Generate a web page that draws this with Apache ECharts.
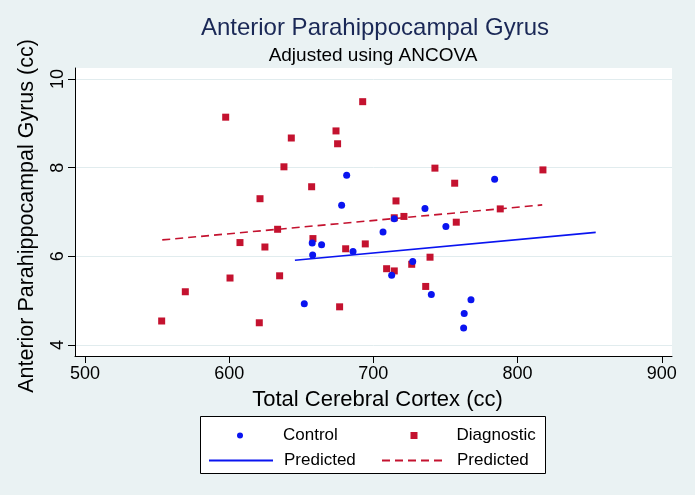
<!DOCTYPE html>
<html>
<head>
<meta charset="utf-8">
<script src="https://cdn.jsdelivr.net/npm/echarts@6/dist/echarts.min.js"></script>
<style>
  html, body { margin: 0; padding: 0; background: #eaf2f3; }
  #chart { width: 695px; height: 495px; }
</style>
</head>
<body>
<div id="chart"></div>
<script>
// ---- Data ----
const titleText = 'Anterior Parahippocampal Gyrus';
const subtitleText = 'Adjusted using ANCOVA';
const xAxisTitle = 'Total Cerebral Cortex (cc)';
const yAxisTitle = 'Anterior Parahippocampal Gyrus (cc)';

const xTicks = [500, 600, 700, 800, 900];
const yTicks = [4, 6, 8, 10];

// Control group (blue dots): [total cerebral cortex, anterior parahippocampal gyrus]
const controlX = [681.5, 678.0, 706.7, 657.6, 664.1, 657.9, 685.9, 652.1, 712.7,
                  784.1, 735.8, 714.5, 750.3, 727.3, 740.2, 767.7, 763.0, 762.6];
const controlY = [7.83, 7.15, 6.55, 6.30, 6.26, 6.03, 6.11, 4.93, 5.57,
                  7.74, 7.08, 6.85, 6.67, 5.88, 5.14, 5.02, 4.71, 4.38];

// Diagnostic group (red squares)
const diagX = [597.6, 692.6, 674.1, 675.2, 643.1, 638.0, 657.2, 621.4, 633.6, 658.1,
               607.5, 624.8, 680.8, 694.4, 600.6, 635.0, 569.6, 676.6, 553.2, 620.9,
               709.2, 742.7, 817.6, 756.4, 715.7, 714.5, 721.2, 788.0, 757.5, 739.3,
               726.6, 714.5, 736.3];
const diagY = [9.14, 9.49, 8.83, 8.54, 8.67, 8.02, 7.57, 7.30, 6.61, 6.40,
               6.31, 6.21, 6.17, 6.28, 5.51, 5.56, 5.20, 4.86, 4.54, 4.50,
               5.72, 7.99, 7.95, 7.65, 7.25, 6.87, 6.90, 7.07, 6.77, 5.98,
               5.82, 5.67, 5.32];

// Predicted (fitted) lines: endpoints
const predControlX = [645.6, 854.2];
const predControlY = [5.91, 6.54];
const predDiagX = [553.6, 817.1];
const predDiagY = [6.37, 7.16];

// ---- Build chart ----
const zip = (xs, ys) => xs.map((x, i) => [x, ys[i]]);
const FONT = 'Liberation Sans, Arial, Helvetica, sans-serif';
const BLUE = '#0a14f0';
const RED = '#c4122f';

const chart = echarts.init(document.getElementById('chart'), null, { renderer: 'canvas' });

function legendItem(left, top, name, label, iw, ih, textPad, hideSymbol) {
  const l = {
    left: left, top: top, padding: 0, itemWidth: iw, itemHeight: ih,
    selectedMode: false, z: 5,
    data: [name],
    formatter: () => '{a|' + label + '}',
    textStyle: {
      fontFamily: FONT, fontSize: 17, color: '#000',
      rich: { a: { fontFamily: FONT, fontSize: 17, color: '#000', padding: [0, 0, 0, textPad], lineHeight: 20 } }
    }
  };
  if (hideSymbol) l.itemStyle = { opacity: 0 };
  return l;
}

const option = {
  backgroundColor: '#eaf2f3',
  animation: false,
  title: [
    { text: titleText, left: 375, top: 16, textAlign: 'center', padding: 0,
      textStyle: { fontFamily: FONT, fontSize: 24, fontWeight: 'normal', color: '#1a2856' } },
    { text: subtitleText, left: 373, top: 46, textAlign: 'center', padding: 0,
      textStyle: { fontFamily: FONT, fontSize: 19, fontWeight: 'normal', color: '#000' } }
  ],
  grid: { left: 75, right: 23, top: 68, bottom: 139, show: true, backgroundColor: '#ffffff', borderWidth: 0, containLabel: false },
  xAxis: {
    type: 'value', min: 493.1, max: 907.1,
    name: xAxisTitle, nameLocation: 'middle', nameGap: 33,
    nameTextStyle: { fontFamily: FONT, fontSize: 22, color: '#000', padding: [0, 0, 0, 8] },
    axisLine: { show: true, onZero: false, lineStyle: { color: '#000', width: 1 } },
    axisTick: { show: true, inside: false, length: 7, lineStyle: { color: '#000' }, customValues: xTicks },
    axisLabel: { fontFamily: FONT, fontSize: 18, color: '#000', margin: 9, customValues: xTicks },
    splitLine: { show: false }
  },
  yAxis: {
    type: 'value', min: 3.75, max: 10.25,
    name: yAxisTitle, nameLocation: 'middle', nameGap: 37, nameRotate: 90,
    nameTextStyle: { fontFamily: FONT, fontSize: 21.5, color: '#000', padding: [0, 8, 0, 0] },
    axisLine: { show: true, onZero: false, lineStyle: { color: '#000', width: 1 } },
    axisTick: { show: true, inside: false, length: 7, lineStyle: { color: '#000' }, customValues: yTicks },
    axisLabel: { fontFamily: FONT, fontSize: 18, color: '#000', margin: 8, rotate: 90, customValues: yTicks },
    splitLine: { show: true, lineStyle: { color: '#e1ecee', width: 1 } }
  },
  graphic: [
    { type: 'rect', z: 1, shape: { x: 200.5, y: 416.5, width: 345, height: 57 },
      style: { fill: '#ffffff', stroke: '#000000', lineWidth: 1 } }
  ],
  legend: [
    legendItem(237, 427, 'Control', 'Control', 6, 6, 35, false),
    legendItem(410.5, 427, 'Diagnostic', 'Diagnostic', 7, 7, 34, false),
    legendItem(208, 452, 'Predicted (Control)', 'Predicted', 64, 14, 6, true),
    legendItem(381, 452, 'Predicted (Diagnostic)', 'Predicted', 64, 14, 6, true)
  ],
  series: [
    { name: 'Predicted (Control)', type: 'line', data: zip(predControlX, predControlY),
      symbol: 'none', lineStyle: { color: BLUE, width: 1.6, type: 'solid' }, itemStyle: { color: BLUE }, z: 2 },
    { name: 'Predicted (Diagnostic)', type: 'line', data: zip(predDiagX, predDiagY),
      symbol: 'none', lineStyle: { color: RED, width: 1.6, type: [8, 5] }, itemStyle: { color: RED }, z: 2 },
    { name: 'Diagnostic', type: 'scatter', data: zip(diagX, diagY),
      symbol: 'rect', symbolSize: 7, itemStyle: { color: RED, opacity: 1 }, z: 3 },
    { name: 'Control', type: 'scatter', data: zip(controlX, controlY),
      symbol: 'circle', symbolSize: 7, itemStyle: { color: BLUE, opacity: 1 }, z: 4 }
  ]
};
chart.setOption(option);
</script>
</body>
</html>
